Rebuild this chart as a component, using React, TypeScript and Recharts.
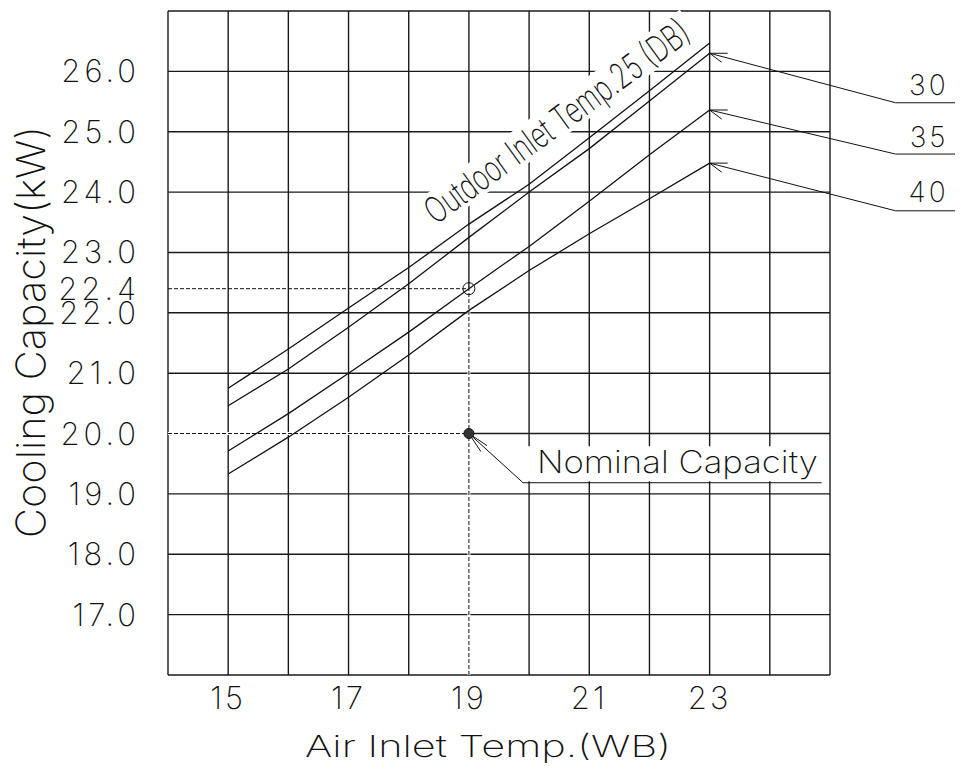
import React from 'react';
import {
  LineChart,
  Line,
  XAxis,
  YAxis,
  CartesianGrid,
  ReferenceLine,
  ReferenceDot,
  ReferenceArea,
} from 'recharts';

// indoor air inlet temp (WB) and capacity per outdoor inlet temp (DB)
const inletWB = [15, 16, 17, 18, 19, 20, 21, 22, 23];
const outdoor25 = [20.75, 21.4, 22.08, 22.75, 23.47, 24.13, 24.9, 25.68, 26.47];
const outdoor30 = [20.46, 21.07, 21.76, 22.48, 23.25, 24.0, 24.72, 25.51, 26.3];
const outdoor35 = [19.71, 20.33, 21.0, 21.68, 22.4, 23.1, 23.85, 24.62, 25.36];
const outdoor40 = [19.33, 19.94, 20.6, 21.3, 22.04, 22.7, 23.31, 23.89, 24.48];

const xGrid = [14, 15, 16, 17, 18, 19, 20, 21, 22, 23, 24, 25];
const xTicks = [15, 17, 19, 21, 23];
const yGrid = [16, 17, 18, 19, 20, 21, 22, 23, 24, 25, 26, 27];
const yTicks = [17, 18, 19, 20, 21, 22, 23, 24, 25, 26, 22.4];

const ratedPoint = { t: 19, cap: 22.4 };
const nominalPoint = { t: 19, cap: 20.0 };

const legendNames = ['30', '35', '40'];
const legendEnds = [outdoor30[8], outdoor35[8], outdoor40[8]];

const data = inletWB.map((t, i) => ({
  t,
  c25: outdoor25[i],
  c30: outdoor30[i],
  c35: outdoor35[i],
  c40: outdoor40[i],
}));

const FONT = 'Inter, "DejaVu Sans", sans-serif';
const WEIGHT = 200;
const INK = '#111';

const seg = (x1: number, y1: number, x2: number, y2: number) => [
  { x: x1, y: y1 },
  { x: x2, y: y2 },
];

export default function App() {
  return (
    <LineChart
      width={955}
      height={758}
      data={data}
      margin={{ top: 3, right: 133, left: 0, bottom: 0 }}
      style={{ background: '#fff' }}
    >
      <CartesianGrid
        stroke="#1a1a1a"
        strokeWidth={1.4}
        verticalValues={xGrid}
        horizontalValues={yGrid}
      />
      <XAxis
        dataKey="t"
        type="number"
        domain={[14, 25]}
        ticks={xTicks}
        interval={0}
        tickLine={false}
        axisLine={false}
        tickSize={0}
        tickMargin={12}
        height={91}
        tick={{ fontSize: 31, fill: INK, fontFamily: FONT, fontWeight: WEIGHT, letterSpacing: 3 }}
        label={{
          content: ({ viewBox }: any) => (
            <text
              x={viewBox.x + viewBox.width / 2 - 11}
              y={viewBox.y + 82}
              textAnchor="middle"
              fontSize={30}
              fontFamily={FONT}
              fontWeight={WEIGHT}
              fill={INK}
              textLength={366}
              lengthAdjust="spacingAndGlyphs"
            >
              Air Inlet Temp.(WB)
            </text>
          ),
        }}
      />
      <YAxis
        type="number"
        domain={[16, 27]}
        ticks={yTicks}
        interval={0}
        width={160}
        tickLine={false}
        axisLine={false}
        tickSize={0}
        tickMargin={28}
        tickFormatter={(v: number) => v.toFixed(1)}
        tick={{ fontSize: 31, fill: INK, fontFamily: FONT, fontWeight: WEIGHT, letterSpacing: 4 }}
        label={{
          content: ({ viewBox }: any) => {
            const cx = viewBox.x + 37;
            const cy = viewBox.y + viewBox.height / 2 - 11;
            return (
              <text
                x={cx}
                y={cy}
                transform={`rotate(-90 ${cx} ${cy})`}
                textAnchor="middle"
                fontSize={40}
                fontFamily={FONT}
                fontWeight={WEIGHT}
                fill={INK}
                textLength={412}
                lengthAdjust="spacingAndGlyphs"
              >
                Cooling Capacity(kW)
              </text>
            );
          },
        }}
      />

      {/* mask behind the nominal capacity note */}
      <ReferenceArea x1={19.95} x2={24.93} y1={19.21} y2={19.79} fill="#fff" fillOpacity={1} stroke="none" />

      {/* guide lines to the rated and nominal points */}
      <ReferenceLine segment={seg(14, ratedPoint.cap, ratedPoint.t, ratedPoint.cap)} stroke={INK} strokeWidth={1} strokeDasharray="4 2" />
      <ReferenceLine segment={seg(14, nominalPoint.cap, nominalPoint.t, nominalPoint.cap)} stroke="#fff" strokeWidth={3} />
      <ReferenceLine segment={seg(14, nominalPoint.cap, nominalPoint.t, nominalPoint.cap)} stroke={INK} strokeWidth={1} strokeDasharray="4 2" />
      <ReferenceLine segment={seg(ratedPoint.t, 16, ratedPoint.t, ratedPoint.cap)} stroke="#fff" strokeWidth={3} />
      <ReferenceLine segment={seg(ratedPoint.t, 16, ratedPoint.t, ratedPoint.cap)} stroke={INK} strokeWidth={1} strokeDasharray="4 2" />

      {/* outdoor temperature label along the 25 DB curve */}
      <ReferenceDot
        x={18.45}
        y={23.45}
        r={0}
        ifOverflow="visible"
        shape={(p: any) => (
          <g transform={`rotate(-36 ${p.cx} ${p.cy})`}>
            <rect x={p.cx - 8} y={p.cy - 31} width={332} height={35} fill="#fff" />
            <text
              x={p.cx}
              y={p.cy}
              fontSize={36}
              fontFamily={FONT}
              fontWeight={WEIGHT}
              fill={INK}
              textLength={318}
              lengthAdjust="spacingAndGlyphs"
            >
              Outdoor Inlet Temp.25 (DB)
            </text>
          </g>
        )}
      />

      <Line type="linear" dataKey="c25" stroke={INK} strokeWidth={1.3} dot={false} isAnimationActive={false} />
      <Line type="linear" dataKey="c30" stroke={INK} strokeWidth={1.3} dot={false} isAnimationActive={false} />
      <Line type="linear" dataKey="c35" stroke={INK} strokeWidth={1.3} dot={false} isAnimationActive={false} />
      <Line type="linear" dataKey="c40" stroke={INK} strokeWidth={1.3} dot={false} isAnimationActive={false} />

      {/* legend leaders for 30 / 35 / 40 */}
      {legendEnds.map((yEnd, i) => {
        const elbowY = [25.48, 24.63, 23.69][i];
        return (
          <React.Fragment key={`lead-${i}`}>
            <ReferenceLine segment={seg(23, yEnd, 26.09, elbowY)} stroke={INK} strokeWidth={1} ifOverflow="visible" />
            <ReferenceLine segment={seg(26.09, elbowY, 27.2, elbowY)} stroke={INK} strokeWidth={1} ifOverflow="visible" />
            <ReferenceLine segment={seg(23, yEnd, 23.3, yEnd)} stroke={INK} strokeWidth={1} ifOverflow="visible" />
            <ReferenceLine segment={seg(23, yEnd, 23.2, yEnd - 0.15)} stroke={INK} strokeWidth={1} ifOverflow="visible" />
          </React.Fragment>
        );
      })}
      {legendNames.map((name, i) => (
        <ReferenceDot
          key={`lbl-${name}`}
          x={26.97}
          y={[25.61, 24.75, 23.84][i]}
          r={0}
          ifOverflow="visible"
          shape={(p: any) => (
            <text x={p.cx} y={p.cy} textAnchor="end" fontSize={28} fontFamily={FONT} fontWeight={WEIGHT} fill={INK} letterSpacing={3}>
              {name}
            </text>
          )}
        />
      ))}

      {/* nominal capacity leader */}
      <ReferenceLine segment={seg(nominalPoint.t, nominalPoint.cap, 19.9, 19.185)} stroke={INK} strokeWidth={1} />
      <ReferenceLine segment={seg(19.9, 19.185, 24.86, 19.185)} stroke={INK} strokeWidth={1} />
      <ReferenceLine segment={seg(nominalPoint.t, nominalPoint.cap, 19.3, 19.8)} stroke={INK} strokeWidth={1} />
      <ReferenceLine segment={seg(nominalPoint.t, nominalPoint.cap, 19.2, 19.7)} stroke={INK} strokeWidth={1} />
      <ReferenceDot
        x={20.13}
        y={19.346}
        r={0}
        shape={(p: any) => (
          <text
            x={p.cx}
            y={p.cy}
            fontSize={31}
            fontFamily={FONT}
            fontWeight={WEIGHT}
            fill={INK}
            textLength={281}
            lengthAdjust="spacingAndGlyphs"
          >
            Nominal Capacity
          </text>
        )}
      />

      <ReferenceDot x={ratedPoint.t} y={ratedPoint.cap} r={6} fill="none" stroke={INK} strokeWidth={1} />
      <ReferenceDot x={nominalPoint.t} y={nominalPoint.cap} r={5} fill="#333" stroke={INK} strokeWidth={1} />
    </LineChart>
  );
}
